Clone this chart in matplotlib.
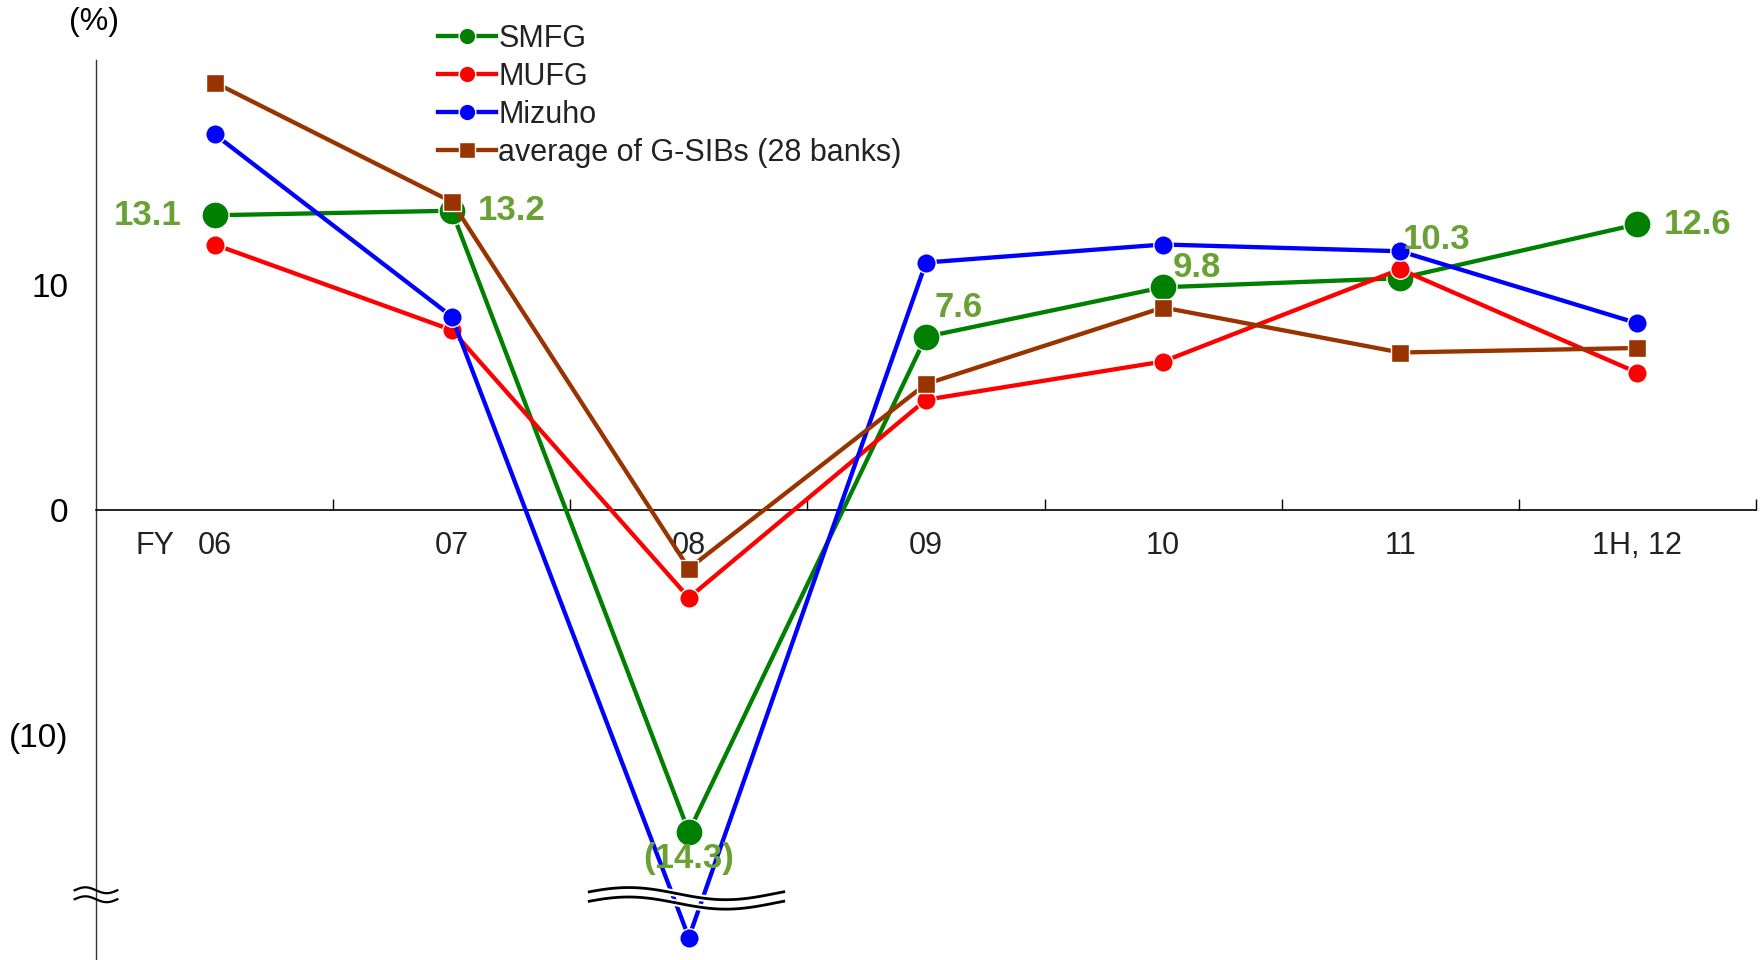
import numpy as np
import matplotlib.pyplot as plt
import matplotlib.patheffects as pe
from matplotlib.lines import Line2D

plt.rcParams['font.family'] = ['Liberation Sans', 'DejaVu Sans']

# ROA-like ratios (%)
years = ['06', '07', '08', '09', '10', '11', '1H, 12']
smfg = [13.1, 13.3, -14.3, 7.7, 9.9, 10.3, 12.7]
mufg = [11.8, 8.0, -3.9, 4.9, 6.6, 10.7, 6.1]
mizuho = [16.7, 8.6, -19.0, 11.0, 11.8, 11.5, 8.3]   # 08 drawn past the axis break
gsib = [19.0, 13.7, -2.6, 5.6, 9.0, 7.0, 7.2]
smfg_labels = ['13.1', '13.2', '(14.3)', '7.6', '9.8', '10.3', '12.6']

series = [('SMFG', smfg, '#008000', 'o'),
          ('MUFG', mufg, '#ff0000', 'o'),
          ('Mizuho', mizuho, '#0000ff', 'o'),
          ('average of G-SIBs (28 banks)', gsib, '#993300', 's')]

fig = plt.figure(figsize=(17.62, 9.6), dpi=100)
ax = fig.add_axes([96/1762, 0, 1660/1762, 900/960])

x = np.arange(len(years))
for name, vals, col, mk in series:
    ms = 14
    if name == 'SMFG':
        ms = 19.5
    if mk == 's':
        ms = 13.5
    ax.plot(x, vals, color=col, lw=3.1, marker=mk, ms=ms,
            mec='white', mew=1, zorder=3)

# data labels for SMFG
lab_col = '#6aa134'
offsets = [(-24, 0, 'right'), (19, 0, 'left'), (0, -19, 'center'),
           (6, 21, 'left'), (7, 14, 'left'), (2, 28, 'left'), (19, 0, 'left')]
for xi, v, t, (dx, dy, ha) in zip(x, smfg, smfg_labels, offsets):
    ax.annotate(t, (xi, v), xytext=(dx, dy), textcoords='offset points',
                ha=ha, va='center', fontsize=25, fontweight='bold',
                color=lab_col, zorder=5)

ax.set_xlim(-0.5, 6.5)
ax.set_ylim(-20, 20)

ax.spines['top'].set_visible(False)
ax.spines['right'].set_visible(False)
ax.spines['bottom'].set_position(('data', 0))
ax.spines['bottom'].set_linewidth(1.2)
ax.spines['left'].set_linewidth(1.0)
ax.spines['left'].set_color('#333333')

ax.set_xticks(np.arange(0.5, 7, 1))
ax.set_xticklabels([])
ax.tick_params(axis='x', which='major', direction='in', length=8, width=1)
ax.set_xticks(x, minor=True)
ax.set_xticklabels(years, minor=True)
ax.tick_params(axis='x', which='minor', length=0, pad=15, labelsize=22,
               labelcolor='#222222')
ax.annotate('FY', (-0.25, 0), xytext=(0, -15), textcoords='offset points',
            ha='center', va='top', fontsize=22, color='#222222')

ax.set_yticks([-10, 0, 10])
ax.set_yticklabels(['(10)', '0', '10'])
ax.tick_params(axis='y', length=0, pad=20, labelsize=24)
fig.text(94/1762, 1 - 22/960, '(%)', ha='center', va='center', fontsize=23)

# axis break marks
halo = [pe.withStroke(linewidth=5, foreground='white')]
t = np.linspace(0, 1, 100)
bx = 1.58 + 0.82 * t
by = -17.05 + 0.27 * np.sin(2 * np.pi * t + 0.3)
ax.plot(bx, by, color='black', lw=2, zorder=6, path_effects=halo)
ax.plot(bx, by - 0.42, color='black', lw=2, zorder=6, path_effects=halo)
sx = -0.59 + 0.18 * t
sy = 0.13 * np.sin(2 * np.pi * t)
ax.plot(sx, sy - 16.9, color='black', lw=1.6, clip_on=False, zorder=6)
ax.plot(sx, sy - 17.3, color='black', lw=1.6, clip_on=False, zorder=6)

handles = [Line2D([], [], color=col, lw=3.1, marker=mk,
                  ms=12 if mk == 'o' else 11.5, mec='white', mew=1)
           for name, vals, col, mk in series]
fig.legend(handles, [s[0] for s in series], loc='upper left',
           bbox_to_anchor=(438/1762, 0.975), frameon=False, fontsize=22,
           handlelength=1.9, handletextpad=0.08, labelspacing=0.26,
           borderpad=0, borderaxespad=0, labelcolor='#222222')

plt.savefig('out.png')
